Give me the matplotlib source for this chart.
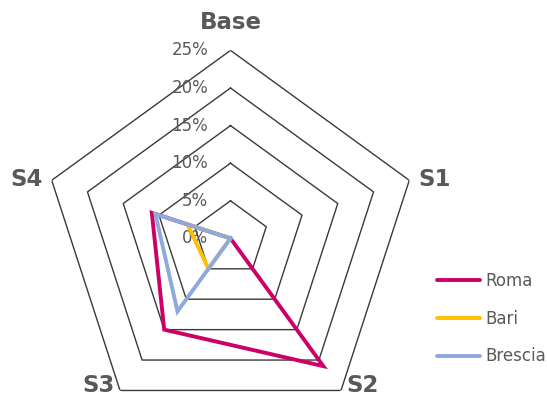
import numpy as np
import matplotlib.pyplot as plt
from matplotlib.lines import Line2D

# Radar chart: share of each city across the five scenarios
categories = ["Base", "S1", "S2", "S3", "S4"]
roma = [0, 0, 21, 15, 11]
bari = [0, 0, 0, 5, 6]
brescia = [0, 0, 0, 12, 10.5]
series_names = ["Roma", "Bari", "Brescia"]
series_colors = ["#CC0066", "#FFC000", "#8EA9DB"]
rings = [0, 5, 10, 15, 20, 25]
ring_labels = ["0%", "5%", "10%", "15%", "20%", "25%"]

text_gray = "#595959"

fig = plt.figure(figsize=(5.47, 4.07), dpi=100)
ax = fig.add_axes([0.0777, -0.0476, 0.6874, 0.9238], polar=True)
ax.set_theta_offset(np.pi / 2)
ax.set_theta_direction(-1)
ax.set_ylim(0, rings[-1])
ax.grid(False)
ax.spines["polar"].set_visible(False)
ax.set_xticks([])
ax.set_yticks([])
ax.patch.set_visible(False)

n = len(categories)
angles = np.linspace(0, 2 * np.pi, n, endpoint=False)
closed = np.append(angles, angles[0])

# Pentagonal gridlines
for r in rings[1:]:
    ax.plot(closed, [r] * (n + 1), color="#3a3a3a", lw=1.0, zorder=1)

# Ring value labels along the top spoke
for r, lab in zip(rings, ring_labels):
    ax.annotate(lab, xy=(0, r), xytext=(-16, 0), textcoords="offset points",
                ha="right", va="center", fontsize=12, color=text_gray,
                annotation_clip=False)

# Category labels around the outside
label_pos = {"Base": (0.0, 28.7), "S1": (np.deg2rad(74), 28.2),
             "S2": (np.deg2rad(138), 26.3), "S3": (np.deg2rad(222), 26.3),
             "S4": (np.deg2rad(286), 28.2)}
for cat in categories:
    th, rr = label_pos[cat]
    ax.text(th, rr, cat, ha="center", va="center", fontsize=16.5,
            fontweight="bold", color=text_gray)

# Data series
handles = []
for name, vals, col in zip(series_names, [roma, bari, brescia], series_colors):
    v = np.append(vals, vals[0])
    ax.plot(closed, v, color=col, lw=2.8, zorder=3, solid_joinstyle="miter")
    handles.append(Line2D([0], [0], color=col, lw=2.8,
                          solid_capstyle="round", label=name))

leg = fig.legend(handles=handles, loc="upper left",
                 bbox_to_anchor=(0.786, 0.348), frameon=False,
                 fontsize=12, handlelength=2.6, handletextpad=0.35,
                 labelspacing=1.18, borderaxespad=0)
for t in leg.get_texts():
    t.set_color(text_gray)

fig.savefig("out.png", dpi=100)
